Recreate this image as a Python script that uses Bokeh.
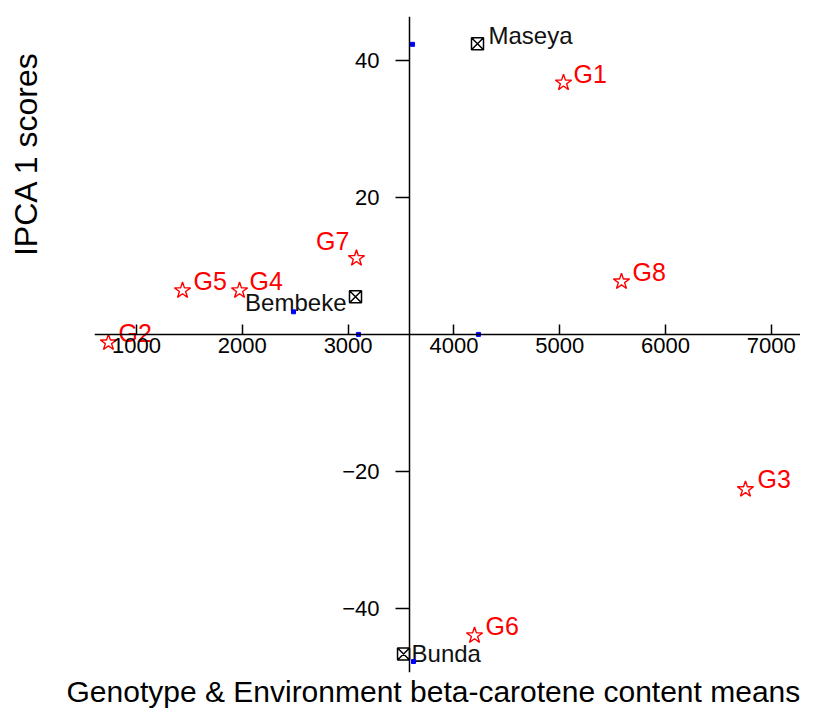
from bokeh.plotting import figure
from bokeh.models import LinearAxis, FixedTicker, Range1d, Title, ColumnDataSource
from bokeh.core.properties import value
from bokeh.embed import file_html
from bokeh.resources import INLINE

# ---- data ----
genotypes = ["G1", "G2", "G3", "G4", "G5", "G6", "G7", "G8"]
gen_mean = [5036, 735, 6756, 1974, 1435, 4195, 3079, 5584]
gen_ipca1 = [36.7, -1.2, -22.6, 6.4, 6.4, -43.9, 11.1, 7.7]

environments = ["Maseya", "Bembeke", "Bunda"]
env_mean = [4223, 3070, 3524]
env_ipca1 = [42.4, 5.5, -46.6]

grand_mean = 3580

blue_x = [3609, 3098, 4232, 2484, 3618]
blue_y = [42.3, 0.0, 0.0, 3.3, -47.7]

x_ticks = [1000, 2000, 3000, 4000, 5000, 6000, 7000]
y_ticks = [-40, -20, 20, 40]

x_title = "Genotype & Environment beta-carotene content means"
y_title = "IPCA 1 scores"

# ---- label placement styles ----
gen_dx = [10, 10, 12, 10, 11, 11, -7, 11]
gen_dy = [-9, -10, -10, -10, -10, -9, -17, -10]
gen_align = ["left", "left", "left", "left", "left", "left", "right", "left"]
env_dx = [11, -9, 8]
env_dy = [-8, 6, 0]
env_align = ["left", "right", "left"]

FONT = "Liberation Sans"

p = figure(width=800, height=708,
           x_range=Range1d(603, 7276), y_range=Range1d(-49.3, 46.36),
           x_axis_location=None, y_axis_location=None,
           output_backend="svg", toolbar_location=None,
           min_border_left=94, min_border_right=0,
           min_border_top=16, min_border_bottom=36)
p.outline_line_color = None
p.xgrid.visible = False
p.ygrid.visible = False
p.background_fill_color = "white"
p.border_fill_color = "white"

# horizontal axis through IPCA1 = 0
xa = LinearAxis(fixed_location=0, ticker=FixedTicker(ticks=x_ticks))
xa.major_tick_in = 10
xa.major_tick_out = 0
xa.minor_tick_line_color = None
xa.axis_line_width = 1.5
xa.major_tick_line_width = 1.5
xa.major_label_standoff = 4
xa.major_label_text_font = FONT
xa.major_label_text_font_size = "22px"
xa.major_label_text_color = "black"
p.add_layout(xa, "below")

# vertical axis through the grand mean
ya = LinearAxis(fixed_location=grand_mean, ticker=FixedTicker(ticks=y_ticks))
ya.major_tick_in = 0
ya.major_tick_out = 14
ya.minor_tick_line_color = None
ya.major_label_standoff = 16
ya.axis_line_width = 1.5
ya.major_tick_line_width = 1.5
ya.major_label_text_font = FONT
ya.major_label_text_font_size = "22px"
ya.major_label_text_color = "black"
p.add_layout(ya, "left")

# invisible spacer between the frame and the vertical title
spacer = LinearAxis(ticker=FixedTicker(ticks=[-30]), major_label_overrides={-30: ""})
spacer.axis_line_color = None
spacer.major_tick_line_color = "white"
spacer.major_tick_line_width = 1
spacer.minor_tick_line_color = None
spacer.major_tick_in = 0
spacer.major_tick_out = 51
spacer.minor_tick_out = 0
spacer.major_label_standoff = 0
spacer.axis_label_standoff = 0
p.add_layout(spacer, "left")

# axis titles
p.add_layout(Title(text=x_title, align="left", offset=-28, standoff=0,
                   text_font=FONT, text_font_size="30px", text_font_style="normal",
                   text_color="black", text_line_height=1.0), "below")
p.add_layout(Title(text=y_title, align="right", offset=35, standoff=0,
                   text_font=FONT, text_font_size="32px", text_font_style="normal",
                   text_color="black", text_line_height=1.0), "left")

gsrc = ColumnDataSource(dict(x=gen_mean, y=gen_ipca1, t=genotypes,
                             dx=gen_dx, dy=gen_dy, al=gen_align))
esrc = ColumnDataSource(dict(x=env_mean, y=env_ipca1, t=environments,
                             dx=env_dx, dy=env_dy, al=env_align))

p.scatter("x", "y", source=gsrc, marker="star", size=17,
          line_color="red", fill_color=None, line_width=1.4)
p.text("x", "y", text="t", source=gsrc, x_offset="dx", y_offset="dy",
       text_align="al", text_baseline="middle", text_color="red",
       text_font=value(FONT), text_font_size="25px")

p.scatter("x", "y", source=esrc, marker="square_x", size=12,
          line_color="black", fill_color="white", line_width=1.5)
p.text("x", "y", text="t", source=esrc, x_offset="dx", y_offset="dy",
       text_align="al", text_baseline="middle", text_color="#111111",
       text_font=value(FONT), text_font_size="24px")

p.scatter(blue_x, blue_y, marker="square", size=4, line_color="blue",
          fill_color="blue")

open("out.html", "w").write(file_html(p, INLINE))
